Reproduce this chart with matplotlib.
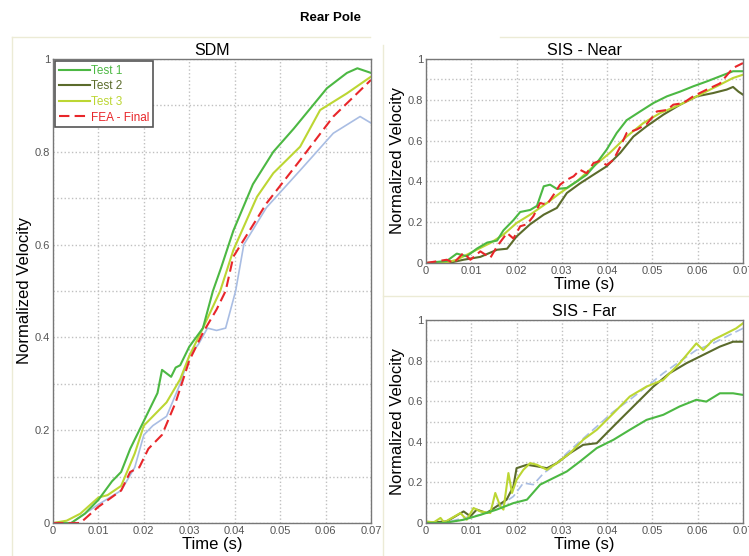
import matplotlib
matplotlib.use("Agg")
import matplotlib.pyplot as plt
from matplotlib.lines import Line2D

plt.rcParams['font.family'] = ['Liberation Sans', 'DejaVu Sans']

# colours
c_test1 = '#4cb843'
c_test2 = '#5b6b2b'
c_test3 = '#bcd633'
c_fea = '#e8262a'
c_blue = '#a9bde3'

# ---------------- SDM ----------------
sdm_t1_t = [0, 0.004, 0.007, 0.01, 0.013, 0.015, 0.017, 0.019, 0.021, 0.023, 0.024, 0.026, 0.027, 0.028,
            0.03, 0.033, 0.0352, 0.037, 0.0397, 0.044, 0.0485, 0.053, 0.0603, 0.0647, 0.067, 0.07]
sdm_t1_v = [0, 0.0, 0.02, 0.05, 0.09, 0.11, 0.16, 0.2, 0.24, 0.28, 0.33, 0.315, 0.335, 0.34,
            0.38, 0.42, 0.5, 0.55, 0.63, 0.73, 0.8, 0.85, 0.937, 0.97, 0.98, 0.97]

sdm_t3_t = [0, 0.003, 0.006, 0.01, 0.012, 0.015, 0.018, 0.02, 0.025, 0.028, 0.03, 0.033, 0.0368,
            0.0397, 0.0449, 0.0485, 0.0544, 0.0588, 0.0647, 0.07]
sdm_t3_v = [0, 0.005, 0.02, 0.055, 0.06, 0.08, 0.15, 0.21, 0.26, 0.31, 0.36, 0.42, 0.50,
            0.588, 0.703, 0.754, 0.811, 0.89, 0.926, 0.962]

sdm_fea_t = [0, 0.006, 0.01, 0.015, 0.017, 0.019, 0.021, 0.024, 0.027, 0.03, 0.033, 0.036, 0.038,
             0.0397, 0.047, 0.0544, 0.0617, 0.07]
sdm_fea_v = [0, 0.0, 0.035, 0.07, 0.11, 0.12, 0.16, 0.19, 0.26, 0.35, 0.41, 0.46, 0.5,
             0.574, 0.689, 0.782, 0.876, 0.955]

sdm_blue_t = [0, 0.004, 0.01, 0.015, 0.018, 0.02, 0.022, 0.025, 0.028, 0.03, 0.032, 0.034, 0.036,
              0.038, 0.0402, 0.042, 0.047, 0.0544, 0.0617, 0.0676, 0.07]
sdm_blue_v = [0, 0.0, 0.04, 0.07, 0.12, 0.19, 0.21, 0.23, 0.3, 0.36, 0.385, 0.42, 0.415,
              0.42, 0.5, 0.6, 0.68, 0.76, 0.84, 0.876, 0.862]

# ---------------- SIS - Near ----------------
near_t1_t = [0, 0.0046, 0.0068, 0.009, 0.0112, 0.0135, 0.0157, 0.0171, 0.0193, 0.0208, 0.023, 0.0245,
             0.026, 0.0274, 0.0289, 0.0311, 0.0333, 0.0355, 0.0377, 0.0399, 0.0421, 0.0443, 0.0473,
             0.0502, 0.0532, 0.0561, 0.059, 0.062, 0.0649, 0.0678, 0.07]
near_t1_v = [0, 0.01, 0.046, 0.033, 0.07, 0.10, 0.11, 0.16, 0.21, 0.25, 0.26, 0.28,
             0.376, 0.384, 0.363, 0.368, 0.40, 0.433, 0.49, 0.556, 0.637, 0.70, 0.743,
             0.784, 0.817, 0.84, 0.866, 0.89, 0.915, 0.94, 0.94]

near_t2_t = [0, 0.005, 0.0083, 0.012, 0.0157, 0.0179, 0.02, 0.023, 0.026, 0.0289, 0.0311, 0.034,
             0.037, 0.0399, 0.0429, 0.0458, 0.0487, 0.0524, 0.0561, 0.0598, 0.0634, 0.0664, 0.0678,
             0.069, 0.07]
near_t2_v = [0, 0.0, 0.016, 0.03, 0.065, 0.07, 0.13, 0.19, 0.237, 0.27, 0.343, 0.39,
             0.433, 0.474, 0.54, 0.62, 0.67, 0.727, 0.776, 0.817, 0.833, 0.85, 0.863,
             0.84, 0.825]

near_t3_t = [0, 0.004, 0.0068, 0.0105, 0.0142, 0.0171, 0.02, 0.023, 0.0267, 0.0296, 0.0333, 0.037,
             0.0406, 0.0443, 0.048, 0.0517, 0.0561, 0.0605, 0.0649, 0.0678, 0.07]
near_t3_v = [0, 0.0, 0.016, 0.057, 0.098, 0.139, 0.196, 0.237, 0.294, 0.343, 0.40, 0.474,
             0.54, 0.62, 0.686, 0.735, 0.776, 0.825, 0.874, 0.907, 0.923]

near_fea_t = [0, 0.0046, 0.0061, 0.0083, 0.0098, 0.012, 0.0142, 0.0157, 0.0179, 0.0193, 0.0208,
              0.0223, 0.0237, 0.0252, 0.0267, 0.0282, 0.0296, 0.0311, 0.0326, 0.034, 0.0355, 0.037,
              0.0384, 0.0399, 0.0414, 0.0429, 0.0443, 0.0465, 0.0487, 0.051, 0.0532, 0.0546, 0.0568,
              0.059, 0.062, 0.0649, 0.0678, 0.07]
near_fea_v = [0, 0.016, 0.0, 0.05, 0.016, 0.057, 0.025, 0.082, 0.147, 0.12, 0.18,
              0.19, 0.229, 0.294, 0.286, 0.335, 0.384, 0.408, 0.425, 0.457, 0.44, 0.49,
              0.50, 0.48, 0.506, 0.57, 0.637, 0.654, 0.68, 0.743, 0.75, 0.776, 0.784,
              0.817, 0.85, 0.88, 0.956, 0.98]

# ---------------- SIS - Far ----------------
far_t1_t = [0, 0.004, 0.0083, 0.012, 0.0156, 0.0193, 0.0223, 0.0252, 0.0281, 0.0311, 0.034, 0.0377,
            0.0414, 0.045, 0.0487, 0.0524, 0.056, 0.0597, 0.0619, 0.0649, 0.0678, 0.07]
far_t1_v = [0, 0.0, 0.016, 0.04, 0.066, 0.098, 0.115, 0.189, 0.221, 0.254, 0.303, 0.369,
            0.41, 0.459, 0.508, 0.533, 0.574, 0.607, 0.598, 0.639, 0.639, 0.631]

far_t2_t = [0, 0.0046, 0.0083, 0.0098, 0.0112, 0.0134, 0.0156, 0.0178, 0.0193, 0.02, 0.0223, 0.0245,
            0.0267, 0.0289, 0.0318, 0.0347, 0.0377, 0.0399, 0.0428, 0.0465, 0.0502, 0.0538, 0.0575,
            0.0612, 0.0649, 0.0678, 0.07]
far_t2_v = [0, 0.008, 0.057, 0.033, 0.066, 0.049, 0.082, 0.115, 0.18, 0.27, 0.287, 0.279,
            0.27, 0.295, 0.344, 0.385, 0.393, 0.443, 0.508, 0.59, 0.672, 0.738, 0.787,
            0.828, 0.869, 0.893, 0.893]

far_t3_t = [0, 0.0017, 0.0032, 0.004, 0.0076, 0.009, 0.0105, 0.012, 0.0142, 0.0153, 0.0164, 0.0171,
            0.0182, 0.019, 0.02, 0.0215, 0.023, 0.0245, 0.0267, 0.0289, 0.0318, 0.0347, 0.0377,
            0.0414, 0.045, 0.0487, 0.0524, 0.056, 0.0597, 0.0612, 0.0634, 0.0663, 0.0685, 0.07]
far_t3_v = [0.008, 0.003, 0.025, 0.003, 0.049, 0.016, 0.074, 0.057, 0.049, 0.148, 0.082, 0.066,
            0.246, 0.148, 0.213, 0.262, 0.295, 0.287, 0.262, 0.295, 0.344, 0.41, 0.459,
            0.541, 0.623, 0.672, 0.705, 0.787, 0.885, 0.852, 0.902, 0.934, 0.959, 0.984]

far_fea_t = [0, 0.004, 0.0083, 0.012, 0.0156, 0.0193, 0.0215, 0.0237, 0.026, 0.0281, 0.0311, 0.034,
             0.0377, 0.0414, 0.045, 0.0487, 0.0524, 0.056, 0.0597, 0.0634, 0.067, 0.07]
far_fea_v = [0, 0.0, 0.025, 0.04, 0.074, 0.131, 0.197, 0.189, 0.246, 0.279, 0.344, 0.402,
             0.475, 0.549, 0.607, 0.672, 0.738, 0.795, 0.852, 0.885, 0.926, 0.959]

x_ticks = [0, 0.01, 0.02, 0.03, 0.04, 0.05, 0.06, 0.07]
x_labels = ['0', '0.01', '0.02', '0.03', '0.04', '0.05', '0.06', '0.07']
y_ticks = [0, 0.2, 0.4, 0.6, 0.8, 1.0]
y_labels = ['0', '0.2', '0.4', '0.6', '0.8', '1']
y_minor = [0.1, 0.3, 0.5, 0.7, 0.9]

W, H = 749, 556
fig = plt.figure(figsize=(W / 100, H / 100), dpi=100)
fig.patch.set_facecolor('white')


def px_axes(left, top, right, bottom):
    return fig.add_axes([left / W, 1 - bottom / H, (right - left) / W, (bottom - top) / H])


def style_axes(ax, title):
    ax.set_xlim(0, 0.07)
    ax.set_ylim(0, 1)
    ax.set_xticks(x_ticks)
    ax.set_xticklabels(x_labels)
    ax.set_yticks(y_ticks)
    ax.set_yticklabels(y_labels)
    ax.set_yticks(y_minor, minor=True)
    ax.tick_params(which='both', length=0, labelsize=8, colors='#555555', pad=2)
    ax.grid(True, which='both', color='#c0c0c0', linestyle=':', linewidth=1.0)
    ax.set_axisbelow(True)
    for s in ax.spines.values():
        s.set_color('#777777')
        s.set_linewidth(1.0)
    ax.set_title(title, fontsize=11.5, pad=3)
    ax.set_xlabel('Time (s)', fontsize=12, labelpad=1)
    ax.set_ylabel('Normalized Velocity', fontsize=12, labelpad=2)


ax1 = px_axes(53, 59, 371, 523)
ax2 = px_axes(426, 59, 743, 263)
ax3 = px_axes(426, 320, 743, 523)

style_axes(ax1, 'SDM')
style_axes(ax2, 'SIS - Near')
style_axes(ax3, 'SIS - Far')

lw = 1.5
ax1.plot(sdm_blue_t, sdm_blue_v, color=c_blue, lw=1.2)
ax1.plot(sdm_t3_t, sdm_t3_v, color=c_test3, lw=lw)
ax1.plot(sdm_t1_t, sdm_t1_v, color=c_test1, lw=lw)
ax1.plot(sdm_fea_t, sdm_fea_v, color=c_fea, lw=lw, dashes=(5, 2.5))

ax2.plot(near_t2_t, near_t2_v, color=c_test2, lw=lw)
ax2.plot(near_t3_t, near_t3_v, color=c_test3, lw=lw)
ax2.plot(near_t1_t, near_t1_v, color=c_test1, lw=lw)
ax2.plot(near_fea_t, near_fea_v, color=c_fea, lw=lw, dashes=(5, 2.5))

ax3.plot(far_fea_t, far_fea_v, color=c_blue, lw=1.2, dashes=(5, 2.5))
ax3.plot(far_t2_t, far_t2_v, color=c_test2, lw=lw)
ax3.plot(far_t3_t, far_t3_v, color=c_test3, lw=lw)
ax3.plot(far_t1_t, far_t1_v, color=c_test1, lw=lw)

# legend (SDM only)
handles = [Line2D([], [], color=c_test1, lw=lw),
           Line2D([], [], color=c_test2, lw=lw),
           Line2D([], [], color=c_test3, lw=lw),
           Line2D([], [], color=c_fea, lw=lw, dashes=(5, 2.5))]
leg = ax1.legend(handles, ['Test 1', 'Test 2', 'Test 3', 'FEA - Final'], loc='upper left',
                 fontsize=8.5, handlelength=2.6, handletextpad=0.1, labelspacing=0.3,
                 borderpad=0.3, borderaxespad=0.2, fancybox=False, framealpha=1)
leg.get_frame().set_edgecolor('#555555')
leg.get_frame().set_linewidth(1.2)
for txt, c in zip(leg.get_texts(), [c_test1, c_test2, c_test3, c_fea]):
    txt.set_color(c)

fig.text(330 / W, 1 - 18 / H, 'Rear Pole', ha='center', va='center', fontsize=9.5, fontweight='bold')

# faint panel frames
frame_c = '#ecebd6'
fig.add_artist(Line2D([12 / W, 370 / W], [1 - 37 / H, 1 - 37 / H], color=frame_c, lw=1))
fig.add_artist(Line2D([12 / W, 12 / W], [1 - 37 / H, 1 - 556 / H], color=frame_c, lw=1))
fig.add_artist(Line2D([500 / W, 749 / W], [1 - 37 / H, 1 - 37 / H], color=frame_c, lw=1))
fig.add_artist(Line2D([383 / W, 383 / W], [1 - 45 / H, 1 - 556 / H], color=frame_c, lw=1))
fig.add_artist(Line2D([383 / W, 749 / W], [1 - 296 / H, 1 - 296 / H], color=frame_c, lw=1))

fig.savefig('out.png', dpi=100)
